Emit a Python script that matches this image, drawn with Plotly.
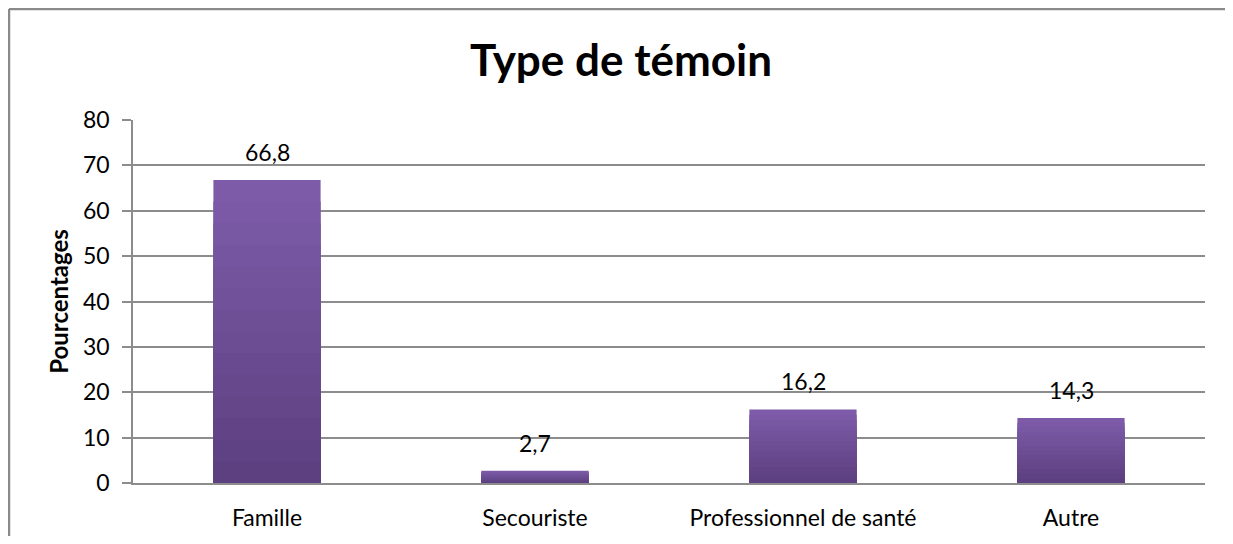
import plotly.graph_objects as go

categories = ["Famille", "Secouriste", "Professionnel de santé", "Autre"]
values = [66.8, 2.7, 16.2, 14.3]
y_ticks = [0, 10, 20, 30, 40, 50, 60, 70, 80]

title_text = "Type de témoin"
y_title = "Pourcentages"

FONT = "Lato, 'Open Sans', sans-serif"
top_col = (125, 91, 169)
bot_col = (93, 64, 128)
N = 14

W, H = 1217, 528
ML, MR, MT, MB = 125, 20, 112, 53
PW, PH = W - ML - MR, H - MT - MB

fig = go.Figure()
# vertical gradient built by overlaying progressively shorter, darker bars
for k in range(N):
    f = 1 - k / N
    t = k / (N - 1)
    c = tuple(round(top_col[i] + (bot_col[i] - top_col[i]) * t) for i in range(3))
    fig.add_trace(go.Bar(
        x=categories,
        y=[v * f for v in values],
        marker=dict(color="rgb(%d,%d,%d)" % c, line=dict(width=0)),
        width=0.4,
        hoverinfo="skip" if k else None,
        showlegend=False,
    ))

for cat, v in zip(categories, values):
    fig.add_annotation(
        x=cat, y=v, text=("%.1f" % v).replace(".", ","),
        showarrow=False, yanchor="bottom", yshift=12,
        font=dict(family=FONT, size=23, color="#000000"),
    )

fig.update_layout(
    width=W, height=H,
    barmode="overlay",
    plot_bgcolor="white", paper_bgcolor="white",
    margin=dict(l=ML, r=MR, t=MT, b=MB, autoexpand=False),
    font=dict(family=FONT, size=23, color="#000000"),
    title=dict(text="<b>%s</b>" % title_text, x=(621 - 8) / W, xanchor="center",
               y=1 - (61 - 8) / H, yanchor="middle",
               font=dict(family=FONT, size=44, color="#000000")),
    separators=", ",
    bargap=0.6,
)
fig.update_yaxes(
    range=[0, 80], tickvals=y_ticks, showgrid=True, gridcolor="#8c8c8c", gridwidth=1.5,
    showline=True, linecolor="#8c8c8c", linewidth=1.5,
    ticks="outside", ticklen=9, tickcolor="#8c8c8c", tickwidth=1.5,
    zeroline=False, ticklabelstandoff=8, automargin=False,
    title=dict(text="<b>%s</b>" % y_title, font=dict(family=FONT, size=24), standoff=8),
    tickfont=dict(family=FONT, size=23),
)
fig.update_xaxes(
    showline=True, linecolor="#8c8c8c", linewidth=1.5, ticks="",
    ticklabelstandoff=14, automargin=False,
    tickfont=dict(family=FONT, size=23),
)

# chart frame (top and left edges visible)
x_left = (1 - ML) / PW
y_top = 1 + (MT - 1) / PH
fig.add_shape(type="line", xref="paper", yref="paper", x0=x_left, x1=(W - ML) / PW, y0=y_top, y1=y_top,
              line=dict(color="#8a8a8a", width=2.5))
fig.add_shape(type="line", xref="paper", yref="paper", x0=x_left, x1=x_left, y0=-MB / PH, y1=y_top,
              line=dict(color="#8a8a8a", width=2.5))

fig.write_html(
    "out.html",
    config={"displayModeBar": False},
    post_script="document.documentElement.style.overflow='hidden';document.body.style.overflow='hidden';",
)
